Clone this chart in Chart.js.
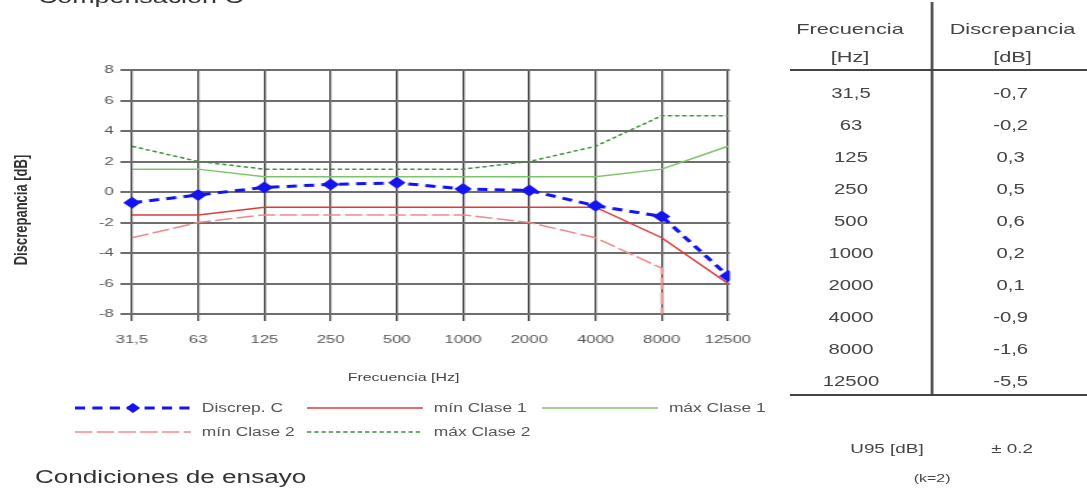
<!DOCTYPE html>
<html>
<head>
<meta charset="utf-8">
<script src="https://cdn.jsdelivr.net/npm/chart.js@4.4.1/dist/chart.umd.min.js"></script>
<style>
  html, body { margin: 0; padding: 0; background: #fff; overflow: hidden; }
  body { width: 1087px; height: 488px; position: relative; }
  /* the source picture is stretched sideways, so lay out narrow and widen the whole page */
  #page {
    position: absolute; left: 0; top: 0; width: 750px; height: 488px;
    transform: scaleX(1.45); transform-origin: 0 0;
    font-family: "Liberation Sans", Arial, sans-serif; color: #444;
  }
  #chartBox { position: absolute; left: 0; top: 40px; width: 538px; height: 360px; }
  .t { position: absolute; white-space: nowrap; line-height: 1; }
  .c { transform: translate(-50%, -50%); }
  .l { transform: translate(0, -50%); }
  svg { position: absolute; left: 0; top: 0; }
</style>
</head>
<body>
<div id="page">
  <div id="chartBox"><canvas id="chart"></canvas></div>
  <svg id="lines" width="750" height="488"></svg>
</div>
<script>
// frequencies (Hz) and measured discrepancy of the C weighting, dB
const freqLabels = ['31,5', '63', '125', '250', '500', '1000', '2000', '4000', '8000', '12500'];
const discrepC = [-0.7, -0.2, 0.3, 0.5, 0.6, 0.2, 0.1, -0.9, -1.6, -5.5];

// tolerance limits, dB
const minClase1 = [-1.5, -1.5, -1, -1, -1, -1, -1, -1, -3, -6];
const maxClase1 = [1.5, 1.5, 1, 1, 1, 1, 1, 1, 1.5, 3];
const maxClase2 = [3, 2, 1.5, 1.5, 1.5, 1.5, 2, 3, 5, 5];
// class 2 lower limit is -inf at 12500: the source draws it as a drop at 8000
const minClase2 = [-3, -2, -1.5, -1.5, -1.5, -1.5, -2, -3, -5, -20];
const minClase2Pos = [0, 1, 2, 3, 4, 5, 6, 7, 8, 8];

const yTicks = [-8, -6, -4, -2, 0, 2, 4, 6, 8];

const BLUE = '#1414f0';
const RED1 = '#e23a3a';
const RED2 = '#f08a8a';
const GREEN1 = '#7cc46c';
const GREEN2 = '#3f8f3f';

const page = document.getElementById('page');

function text(str, x, y, size, cls, extra) {
  const d = document.createElement('div');
  d.className = 't ' + (cls || 'c');
  d.textContent = str;
  d.style.left = x + 'px';
  d.style.top = y + 'px';
  d.style.fontSize = size + 'px';
  if (extra) Object.assign(d.style, extra);
  page.appendChild(d);
  return d;
}

function line(x1, y1, x2, y2, color, width, dash) {
  const svg = document.getElementById('lines');
  const l = document.createElementNS('http://www.w3.org/2000/svg', 'line');
  l.setAttribute('x1', x1); l.setAttribute('y1', y1);
  l.setAttribute('x2', x2); l.setAttribute('y2', y2);
  l.setAttribute('stroke', color);
  l.setAttribute('stroke-width', width);
  if (dash) l.setAttribute('stroke-dasharray', dash.join(' '));
  svg.appendChild(l);
  return l;
}

const fmt = (v) => v.toFixed(1).replace('.', ',');

// titles
text('Compensación C', 26.2, -11.7, 18.5, 'l', { transform: 'none', color: '#333' });
text('Condiciones de ensayo', 24.1, 477, 18, 'l', { color: '#333' });
text('Discrepancia [dB]', 13.8, 210, 13, 'c', { transform: 'translate(-50%,-50%) rotate(-90deg)', color: '#333', fontWeight: 'bold' });
text('Frecuencia [Hz]', 278.3, 377, 11, 'c', { color: '#444' });

// legend
const legendRows = [
  { label: 'Discrep. C', x: 51.7, y: 408, color: BLUE, width: 3, dash: [7, 5], marker: true },
  { label: 'mín Clase 1', x: 211.7, y: 408, color: RED1, width: 1.5 },
  { label: 'máx Clase 1', x: 373.8, y: 408, color: GREEN1, width: 1.5 },
  { label: 'mín Clase 2', x: 51.7, y: 432, color: RED2, width: 1.5, dash: [12, 3] },
  { label: 'máx Clase 2', x: 211.7, y: 432, color: GREEN2, width: 1.5, dash: [3, 2] },
];
legendRows.forEach((r) => {
  line(r.x, r.y, r.x + 80, r.y, r.color, r.width, r.dash);
  if (r.marker) {
    const svg = document.getElementById('lines');
    const p = document.createElementNS('http://www.w3.org/2000/svg', 'polygon');
    const cx = r.x + 40, cy = r.y, s = 5;
    p.setAttribute('points', `${cx},${cy - s} ${cx + s},${cy} ${cx},${cy + s} ${cx - s},${cy}`);
    p.setAttribute('fill', r.color);
    svg.appendChild(p);
  }
  text(r.label, r.x + 87.5, r.y, 12, 'l', { color: '#555' });
});

// table on the right
line(642.8, 2, 642.8, 395, '#555', 2);
line(544.8, 70, 750, 70, '#444', 2);
line(544.8, 395, 750, 395, '#444', 2);
text('Frecuencia', 586.2, 28, 15);
text('[Hz]', 586.2, 56, 15);
text('Discrepancia', 698.3, 28, 15);
text('[dB]', 698.3, 56, 15);
freqLabels.forEach((f, i) => {
  const y = 93 + i * 32;
  text(f, 586.9, y, 14);
  text(fmt(discrepC[i]), 697, y, 14);
});
text('U95 [dB]', 611.7, 448, 13);
text('± 0.2', 698, 448, 13);
text('(k=2)', 642.8, 478, 11);

// chart
Chart.defaults.font.family = '"Liberation Sans", Arial, sans-serif';
Chart.defaults.color = '#555';

const pts = (vals, pos) => vals.map((v, i) => ({ x: pos ? pos[i] : i, y: v }));

new Chart(document.getElementById('chart'), {
  type: 'line',
  data: {
    datasets: [
      {
        label: 'Discrep. C',
        data: pts(discrepC),
        borderColor: BLUE,
        backgroundColor: BLUE,
        borderWidth: 3,
        borderDash: [7, 5],
        pointStyle: 'rectRot',
        pointRadius: 6,
        pointBorderWidth: 0,
      },
      {
        label: 'mín Clase 1',
        data: pts(minClase1),
        borderColor: RED1,
        borderWidth: 1.5,
        pointRadius: 0,
      },
      {
        label: 'máx Clase 1',
        data: pts(maxClase1),
        borderColor: GREEN1,
        borderWidth: 1.5,
        pointRadius: 0,
      },
      {
        label: 'mín Clase 2',
        data: pts(minClase2, minClase2Pos),
        borderColor: RED2,
        borderWidth: 1.5,
        borderDash: [12, 3],
        pointRadius: 0,
      },
      {
        label: 'máx Clase 2',
        data: pts(maxClase2),
        borderColor: GREEN2,
        borderWidth: 1.5,
        borderDash: [3, 2],
        pointRadius: 0,
      },
    ],
  },
  options: {
    responsive: true,
    maintainAspectRatio: false,
    animation: false,
    layout: { padding: { top: 30, right: 34.6, left: 0, bottom: 0 } },
    plugins: { legend: { display: false }, tooltip: { enabled: false } },
    elements: { line: { tension: 0 } },
    scales: {
      x: {
        type: 'linear',
        min: -0.166,
        max: 9.03,
        afterBuildTicks: (s) => { s.ticks = freqLabels.map((_, i) => ({ value: i })); },
        afterFit: (s) => { s.height = 86; },
        ticks: {
          callback: (v) => freqLabels[v],
          padding: 12,
          maxRotation: 0,
          autoSkip: false,
          font: { size: 11.5 },
          color: '#555',
        },
        grid: { color: '#3c3c3c', lineWidth: 1.3, tickLength: 7 },
        border: { display: false },
      },
      y: {
        min: -8,
        max: 8,
        afterBuildTicks: (s) => { s.ticks = yTicks.map((v) => ({ value: v })); },
        afterFit: (s) => { s.width = 83.4; },
        ticks: { padding: 5, font: { size: 11.5 }, color: '#555' },
        grid: { color: '#6e6e6e', lineWidth: 2, drawTicks: false },
        border: { display: false },
      },
    },
  },
});
</script>
</body>
</html>
